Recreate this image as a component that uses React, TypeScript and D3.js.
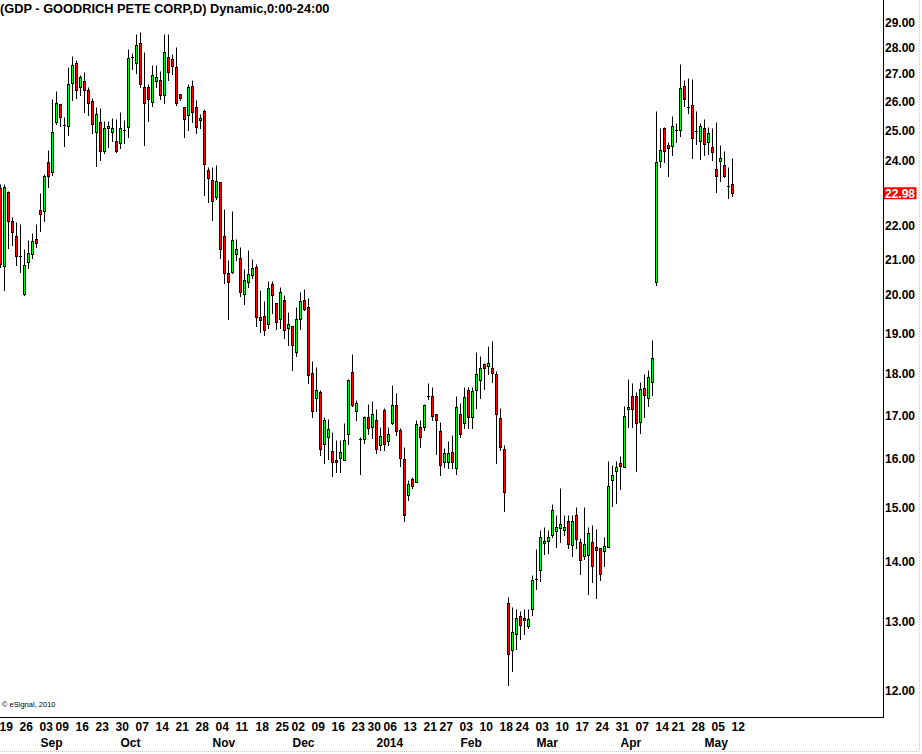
import React from 'react';
import * as d3 from 'd3';

// ---- data ----
const open = [
  23.14, 20.81, 23.02, 22.12, 21.70, 21.10, 20.01, 20.91, 21.17, 21.61,
  22.48, 22.44, 23.96, 23.66, 25.28, 25.89, 25.16, 25.14, 26.63, 27.37,
  26.50, 26.70, 26.38, 25.99, 24.93, 25.29, 24.30, 25.06, 24.93, 24.64,
  24.57, 25.00, 25.09, 27.60, 27.37, 28.15, 26.51, 26.49, 25.98, 26.71,
  26.74, 26.20, 27.63, 27.55, 27.22, 26.24, 25.81, 25.51, 26.53, 25.81,
  25.33, 25.64, 23.72, 23.40, 22.88, 23.32, 21.70, 20.60, 20.63, 21.17,
  21.05, 20.02, 20.35, 20.57, 20.79, 19.41, 19.45, 19.24, 20.30, 19.78,
  19.37, 19.86, 19.15, 19.20, 18.54, 19.36, 19.86, 19.68, 18.00, 17.40,
  17.56, 16.33, 16.49, 16.17, 15.98, 16.02, 15.98, 16.56, 18.04, 17.09,
  16.45, 16.45, 16.95, 16.73, 16.90, 16.31, 17.12, 16.40, 16.83, 17.25,
  16.67, 15.99, 15.24, 15.58, 15.51, 16.74, 16.72, 17.46, 17.47, 17.02,
  16.63, 15.93, 15.93, 16.15, 15.81, 17.02, 16.81, 17.59, 16.97, 17.59,
  17.85, 18.24, 18.18, 18.12, 17.99, 16.93, 16.22, 13.30, 12.59, 12.82,
  13.08, 13.05, 12.93, 13.21, 13.71, 13.85, 14.33, 14.38, 14.49, 14.55,
  14.62, 14.58, 14.74, 14.30, 14.85, 14.36, 14.10, 14.12, 14.36, 14.27,
  14.25, 14.19, 14.26, 15.57, 15.74, 15.91, 15.84, 17.15, 17.45, 17.47,
  16.85, 17.66, 17.41, 17.79, 20.37, 23.99, 25.06, 24.50, 24.47, 25.01,
  24.99, 26.52, 25.81, 25.85, 24.98, 24.63, 25.06, 24.60, 24.44, 23.74,
  23.99, 23.86, 23.20, 23.26,
];
const high = [
  23.27, 23.27, 23.04, 22.26, 22.11, 22.03, 21.29, 21.57, 21.76, 22.05,
  23.00, 23.57, 24.35, 26.07, 26.36, 25.90, 25.46, 27.24, 27.65, 27.50,
  26.93, 27.04, 26.51, 26.10, 25.78, 25.76, 25.31, 25.31, 25.40, 25.38,
  25.61, 25.33, 27.91, 27.76, 28.51, 28.59, 27.80, 26.61, 27.29, 27.29,
  27.06, 28.52, 28.51, 27.72, 27.99, 26.24, 25.81, 26.60, 26.74, 26.02,
  25.54, 25.73, 23.81, 23.79, 23.85, 23.33, 22.51, 20.97, 22.43, 21.61,
  21.35, 20.74, 21.26, 21.00, 20.88, 20.14, 19.84, 20.39, 20.39, 19.78,
  20.21, 20.00, 19.54, 19.20, 19.68, 20.07, 20.15, 19.91, 18.32, 18.16,
  17.59, 16.96, 16.91, 16.61, 16.43, 16.43, 16.81, 17.87, 18.49, 17.36,
  16.49, 16.99, 17.27, 17.33, 17.14, 16.72, 17.16, 16.72, 17.73, 17.52,
  16.70, 16.28, 15.56, 15.62, 16.90, 16.90, 17.27, 17.78, 17.67, 17.02,
  16.85, 16.24, 16.40, 16.54, 17.46, 17.30, 17.67, 17.68, 17.68, 18.53,
  18.42, 18.26, 18.68, 18.82, 18.07, 17.16, 16.32, 13.41, 13.24, 13.21,
  13.18, 13.20, 13.21, 13.78, 14.23, 14.58, 14.64, 14.58, 15.07, 14.86,
  15.39, 14.86, 14.86, 14.86, 15.01, 14.43, 15.01, 14.64, 14.67, 14.60,
  14.25, 14.45, 15.96, 15.87, 15.96, 16.07, 17.21, 17.87, 17.77, 17.55,
  17.79, 17.98, 18.08, 18.84, 25.65, 25.07, 25.09, 24.60, 25.48, 25.23,
  27.36, 26.74, 26.81, 26.78, 25.65, 25.23, 25.37, 25.09, 25.06, 25.28,
  24.51, 24.31, 23.80, 24.09,
];
const low = [
  20.78, 20.14, 21.32, 21.41, 20.83, 20.63, 20.00, 20.76, 21.05, 21.36,
  21.83, 22.13, 23.18, 23.56, 25.21, 25.14, 24.48, 24.84, 26.03, 26.12,
  26.22, 25.63, 25.52, 24.89, 23.82, 24.03, 24.25, 24.46, 24.63, 24.27,
  24.42, 24.57, 24.76, 27.14, 27.01, 26.50, 24.52, 25.32, 25.84, 26.51,
  26.08, 25.94, 26.75, 26.95, 25.85, 26.03, 24.78, 25.00, 25.28, 24.89,
  25.06, 22.93, 22.72, 22.17, 22.79, 21.05, 20.33, 19.37, 20.60, 20.97,
  19.96, 19.76, 20.23, 20.48, 19.19, 19.03, 18.97, 19.15, 19.53, 19.11,
  19.15, 18.89, 18.72, 18.09, 18.43, 19.11, 19.60, 17.76, 16.96, 17.09,
  16.09, 15.92, 16.00, 15.65, 15.72, 15.72, 15.98, 16.33, 17.22, 16.90,
  15.69, 16.37, 16.58, 16.47, 16.13, 16.20, 16.20, 16.31, 16.79, 16.54,
  15.86, 14.75, 15.14, 15.39, 15.51, 16.26, 16.65, 17.38, 16.90, 16.10,
  15.66, 15.83, 15.81, 15.81, 15.68, 16.51, 16.70, 16.70, 16.70, 17.16,
  17.40, 17.63, 17.99, 17.79, 15.91, 16.20, 14.93, 12.08, 12.28, 12.60,
  12.75, 12.81, 12.90, 13.10, 13.54, 13.68, 14.14, 14.15, 14.45, 14.26,
  14.36, 14.49, 14.24, 14.10, 14.24, 13.79, 14.05, 13.46, 13.66, 13.39,
  13.69, 13.92, 14.26, 15.03, 15.08, 15.37, 15.84, 16.72, 16.73, 15.74,
  16.60, 16.96, 17.23, 17.49, 20.26, 23.80, 23.95, 23.53, 24.17, 24.60,
  24.82, 25.84, 25.57, 24.09, 24.54, 24.05, 24.18, 24.22, 24.02, 23.03,
  23.37, 23.48, 22.84, 22.90,
];
const close = [
  20.86, 23.17, 22.12, 21.81, 21.11, 21.10, 20.83, 21.20, 21.55, 21.49,
  22.36, 23.51, 23.52, 24.93, 25.92, 25.44, 25.16, 26.60, 27.29, 26.38,
  26.85, 26.38, 25.92, 25.20, 25.54, 24.31, 25.06, 25.13, 25.06, 24.30,
  25.06, 25.00, 27.59, 27.60, 28.07, 26.60, 25.94, 26.08, 26.92, 26.85,
  26.20, 27.79, 27.03, 27.28, 25.92, 26.12, 25.37, 26.49, 25.62, 25.09,
  25.40, 23.90, 23.45, 22.74, 23.37, 21.30, 20.60, 20.37, 21.58, 21.29,
  20.09, 20.42, 20.58, 20.75, 19.41, 19.34, 19.08, 20.19, 19.99, 19.30,
  20.08, 19.09, 19.23, 18.72, 19.36, 19.83, 19.62, 17.95, 17.09, 17.59,
  16.22, 16.88, 16.68, 15.93, 15.94, 16.15, 16.42, 17.83, 17.25, 17.30,
  16.45, 16.97, 16.70, 17.02, 16.22, 16.52, 16.33, 16.58, 17.25, 16.63,
  16.02, 14.86, 15.47, 15.43, 16.79, 16.49, 17.25, 17.46, 16.99, 16.88,
  15.87, 16.13, 16.13, 15.93, 17.20, 16.56, 17.44, 16.97, 17.57, 17.99,
  18.12, 18.14, 18.26, 18.02, 17.02, 16.28, 15.31, 12.52, 12.84, 13.06,
  12.95, 13.02, 13.04, 13.69, 13.71, 14.45, 14.38, 14.45, 14.94, 14.64,
  14.68, 14.64, 14.32, 14.75, 14.41, 14.02, 14.32, 14.53, 13.92, 14.21,
  13.79, 14.29, 15.44, 15.67, 15.82, 15.86, 16.99, 17.20, 17.14, 16.81,
  17.63, 17.49, 17.92, 18.39, 23.96, 24.35, 24.30, 24.41, 25.13, 25.01,
  26.45, 26.06, 25.81, 24.75, 24.98, 25.13, 24.54, 24.89, 24.28, 23.53,
  24.09, 23.51, 23.20, 22.98,
];

const startDate = '2013-08-19';
const endDate = '2014-05-12';
const holidays = ['2013-09-02', '2013-11-28', '2013-12-25', '2014-01-01', '2014-01-20', '2014-02-17', '2014-04-18'];
const priceTicks = [29, 28, 27, 26, 25, 24, 22, 21, 20, 19, 18, 17, 16, 15, 14, 13, 12];
const lastPrice = 22.98;
const title = '(GDP - GOODRICH PETE CORP,D) Dynamic,0:00-24:00';

// price-axis calibration of the (non-linear) eSignal scale: value -> pixel row
const yCalibValues = [29, 28, 27, 26, 25, 24, 23, 22, 21, 20, 19, 18, 17, 16, 15, 14, 13, 12];
const yCalibPixels = [22, 47, 73, 101, 130, 160.7, 192.6, 225.3, 259.3, 294.7, 333.3, 373.3, 415.2, 458.8, 507, 561.3, 621.3, 690.3];

const W = 922;
const H = 754;
const PLOT_RIGHT = 883.5;
const PLOT_BOTTOM = 717.5;
const FONT = '"Liberation Sans", Arial, sans-serif';
const GREEN = '#00ff00';
const RED = '#ff0000';

const parse = d3.utcParse('%Y-%m-%d');
const fmtKey = d3.utcFormat('%Y-%m-%d');
const fmtDay = d3.utcFormat('%d');
const fmtMonth = d3.utcFormat('%b');
const fmtYear = d3.utcFormat('%Y');

function buildDays(): Date[] {
  const hol = new Set(holidays);
  const s = parse(startDate) as Date;
  const e = parse(endDate) as Date;
  return d3.utcDay.range(s, d3.utcDay.offset(e, 1)).filter((d) => {
    const wd = d.getUTCDay();
    return wd !== 0 && wd !== 6 && !hol.has(fmtKey(d));
  });
}

export default function App() {
  const days = buildDays();
  const n = open.length;

  const x = d3.scaleLinear().domain([0, n - 1]).range([0.5, 0.5 + 4 * (n - 1)]);
  const y = d3.scaleLinear().domain(yCalibValues).range(yCalibPixels);
  const py = (v: number) => Math.round(y(v)) + 0.5;

  const weekTicks = days
    .map((d, i) => ({ d, i }))
    .filter(({ d, i }) => i === 0 || +d3.utcMonday.floor(d) !== +d3.utcMonday.floor(days[i - 1]));

  const monthTicks = days
    .map((d, i) => ({ d, i }))
    .filter(({ d, i }) => i > 0 && d.getUTCMonth() !== days[i - 1].getUTCMonth())
    .map(({ d, i }) => ({ i, label: d.getUTCMonth() === 0 ? fmtYear(d) : fmtMonth(d) }));

  const candles = d3.range(n).map((i) => {
    const o = open[i], c = close[i], h = high[i], l = low[i];
    const cx = x(i);
    const yTop = py(Math.max(o, c));
    const yBot = py(Math.min(o, c));
    const color = c >= o ? GREEN : RED;
    return (
      <g key={i}>
        <line x1={cx} x2={cx} y1={py(h)} y2={py(l) + 0.5} stroke="#000" strokeWidth={1} />
        {yBot - yTop < 1 ? (
          <line x1={cx - 1.5} x2={cx + 1.5} y1={yTop} y2={yTop} stroke="#000" strokeWidth={1} />
        ) : (
          <rect x={cx - 1} y={yTop} width={2} height={yBot - yTop} fill={color} stroke="#000" strokeWidth={1} />
        )}
      </g>
    );
  });

  const lastY = y(lastPrice);

  return (
    <svg width={W} height={H} style={{ position: 'absolute', left: 0, top: 0, background: '#fff' }} fontFamily={FONT}>
      <rect x={0} y={0} width={W} height={H} fill="#fff" />
      <text x={0} y={13} fontSize={12.8} fontWeight="bold" fill="#000">{title}</text>

      <g>{candles}</g>

      {/* axes frame */}
      <line x1={PLOT_RIGHT} x2={PLOT_RIGHT} y1={0} y2={PLOT_BOTTOM + 0.5} stroke="#000" strokeWidth={1} />
      <line x1={0} x2={PLOT_RIGHT + 0.5} y1={PLOT_BOTTOM} y2={PLOT_BOTTOM} stroke="#000" strokeWidth={1} />

      {/* price labels */}
      {priceTicks.map((p) => (
        <text key={p} x={885} y={y(p) + 4.5} fontSize={12} fontWeight="bold" fill="#000">{p.toFixed(2)}</text>
      ))}
      <rect x={PLOT_RIGHT} y={lastY - 6} width={33} height={12} fill={RED} />
      <text x={885} y={lastY + 4.5} fontSize={12} fontWeight="bold" fill="#fff">{lastPrice.toFixed(2)}</text>

      {/* date labels */}
      {weekTicks.map(({ d, i }) => (
        <text key={i} x={x(i) - 1} y={731} fontSize={12} fontWeight="bold" fill="#000">{fmtDay(d)}</text>
      ))}
      {monthTicks.map(({ i, label }) => (
        <text key={label} x={x(i)} y={747} fontSize={12} fontWeight="bold" fill="#000">{label}</text>
      ))}

      <text x={2} y={707} fontSize={7.5} fill="#000">© eSignal, 2010</text>

      {/* window frame */}
      <line x1={919.5} x2={919.5} y1={0} y2={752} stroke="#c8c8c8" strokeWidth={1} strokeDasharray="1 1" />
      <line x1={0} x2={920} y1={751.5} y2={751.5} stroke="#c8c8c8" strokeWidth={1} strokeDasharray="1 1" />
    </svg>
  );
}
